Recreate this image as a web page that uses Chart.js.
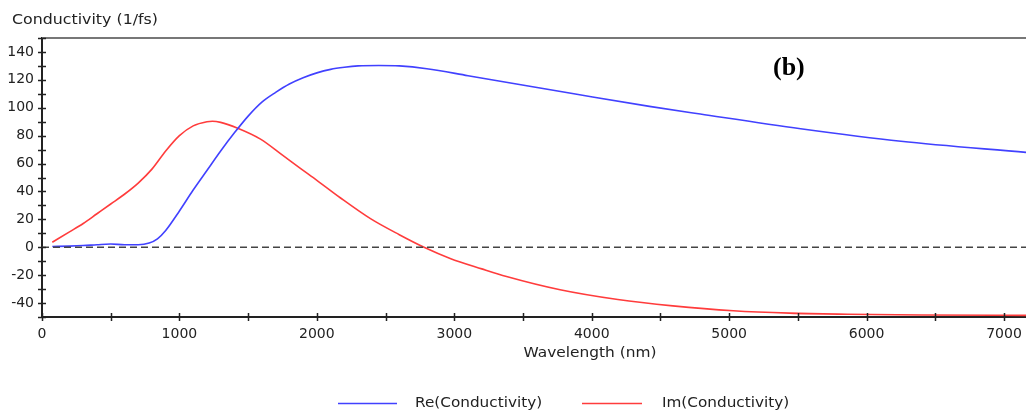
<!DOCTYPE html>
<html><head><meta charset="utf-8">
<script src="https://cdn.jsdelivr.net/npm/chart.js@4.4.0/dist/chart.umd.min.js"></script>
<style>html,body{margin:0;padding:0;background:#fff;}#wrap{width:1026px;height:414px;position:relative;}</style>
</head><body><div id="wrap"><canvas id="c" width="1026" height="414"></canvas></div>
<script>
const reWavelength = [75,200,300,400,500,600,700,780,840,900,1000,1100,1200,1300,1400,1500,1600,1700,1800,1900,2000,2100,2200,2300,2450,2600,2800,3100,3570,3870,4420,4790,5520,6250,7160];
const reValues     = [0.5,0.8,1.2,1.8,2.3,1.8,1.8,3,6,12,26,41,55,69,82,94,104,111,117,121.5,125,127.5,129,130,130.3,130,128,123,115,110,101,95.5,85,76,68];
const imWavelength = [75,200,300,400,500,600,700,800,900,1000,1100,1200,1240,1300,1420,1590,1750,1880,2000,2170,2390,2600,2780,2970,3200,3380,3770,4190,4590,5030,5440,5860,6400,7160];
const imValues     = [3.6,11,17,24,31,38,46,56,69,80,87,90,90.3,89.5,85.5,77.5,66,56.5,48,35.5,20.5,9,0,-8,-15.5,-21,-30.5,-37.5,-42,-45.5,-47.2,-48,-48.6,-48.8];
const baselineWavelength = [0, 7160];
const baselineValues = [0, 0];
const xTickValues = [0,500,1000,1500,2000,2500,3000,3500,4000,4500,5000,5500,6000,6500,7000];
const xTickLabels = [0,1000,2000,3000,4000,5000,6000,7000];
const yTickLabels = [-40,-20,0,20,40,60,80,100,120,140];
const seriesNames = ['Re(Conductivity)','Im(Conductivity)'];
const yAxisTitle = 'Conductivity (1/fs)';
const xAxisTitle = 'Wavelength (nm)';
const panelLabel = '(b)';

const BLUE = 'rgb(65,65,255)';
const RED = 'rgb(255,60,60)';
const FONT = "'DejaVu Sans', Verdana, sans-serif";

function pts(xs, ys){ return xs.map((x,i)=>({x:x,y:ys[i]})); }
function inList(list, v){ return list.some(t => Math.abs(t - v) < 1e-6); }

function stretchText(ctx, text, x, y, sx, align){
  ctx.save();
  const w = ctx.measureText(text).width * sx;
  let left = x;
  if (align === 'center') left = x - w/2;
  ctx.translate(left, y); ctx.scale(sx, 1);
  ctx.textAlign = 'left';
  ctx.fillText(text, 0, 0);
  ctx.restore();
}

const decor = {
  id:'decor',
  afterDraw(chart){
    const ctx = chart.ctx, a = chart.chartArea;
    const xs = chart.scales.x, ys = chart.scales.y;
    ctx.save();
    ctx.strokeStyle = '#777'; ctx.lineWidth = 2;
    ctx.beginPath(); ctx.moveTo(a.left, a.top); ctx.lineTo(a.right, a.top); ctx.stroke();
    ctx.strokeStyle = '#222'; ctx.lineWidth = 1.5;
    xs.ticks.forEach(t=>{ const px = Math.round(xs.getPixelForValue(t.value))+0.5;
      ctx.beginPath(); ctx.moveTo(px, a.bottom-4); ctx.lineTo(px, a.bottom+4); ctx.stroke(); });
    ys.ticks.forEach(t=>{ const py = Math.round(ys.getPixelForValue(t.value))+0.5;
      ctx.beginPath(); ctx.moveTo(a.left-4, py); ctx.lineTo(a.left+4, py); ctx.stroke(); });
    ctx.fillStyle = '#222'; ctx.font = '14px ' + FONT; ctx.textBaseline = 'middle';
    stretchText(ctx, yAxisTitle, 12, 20, 1.13, 'left');
    stretchText(ctx, xAxisTitle, 590, 353, 1.1, 'center');
    ctx.font = "bold 26px 'Liberation Serif', 'Times New Roman', serif";
    ctx.fillStyle = '#000'; ctx.textAlign = 'left'; ctx.fillText(panelLabel, 773, 68);
    const items = [{c:BLUE, x0:338, x1:397, tx:415, name:seriesNames[0]},
                   {c:RED,  x0:582, x1:642, tx:662, name:seriesNames[1]}];
    ctx.font = '14px ' + FONT; ctx.fillStyle = '#222';
    items.forEach(it=>{
      ctx.strokeStyle = it.c; ctx.lineWidth = 1.5;
      ctx.beginPath(); ctx.moveTo(it.x0, 403.5); ctx.lineTo(it.x1, 403.5); ctx.stroke();
      stretchText(ctx, it.name, it.tx, 403, 1.09, 'left');
    });
    ctx.restore();
  }
};

new Chart(document.getElementById('c'), {
  type:'line',
  data:{ datasets:[
    {label:'zero', data:pts(baselineWavelength, baselineValues), borderColor:'#444', borderWidth:1.5, borderDash:[7,4], pointRadius:0, tension:0},
    {label:seriesNames[0], data:pts(reWavelength, reValues), borderColor:BLUE, backgroundColor:BLUE, borderWidth:1.6, pointRadius:0, cubicInterpolationMode:'monotone'},
    {label:seriesNames[1], data:pts(imWavelength, imValues), borderColor:RED, backgroundColor:RED, borderWidth:1.6, pointRadius:0, cubicInterpolationMode:'monotone'}
  ]},
  options:{
    responsive:false, animation:false, devicePixelRatio:1,
    layout:{padding:{top:38,left:0,right:0,bottom:0}},
    plugins:{legend:{display:false}, tooltip:{enabled:false}},
    scales:{
      x:{type:'linear', min:0, max:7160, bounds:'data',
        grid:{display:false, drawTicks:false},
        border:{display:true, color:'#222', width:2},
        afterBuildTicks:s=>{ s.ticks = xTickValues.map(v=>({value:v})); },
        ticks:{autoSkip:false, maxRotation:0, minRotation:0, padding:9, color:'#222', font:{family:FONT, size:14},
          callback:(v)=> inList(xTickLabels, v) ? String(Math.round(v)) : ''},
        afterFit:s=>{ s.height = 97; s.paddingRight = 0; s.paddingLeft = 0; }
      },
      y:{type:'linear', min:-50, max:150, bounds:'data',
        grid:{display:false, drawTicks:false},
        border:{display:true, color:'#222', width:2},
        ticks:{stepSize:10, maxTicksLimit:100, includeBounds:false, autoSkip:false, padding:8, color:'#222', font:{family:FONT, size:14},
          callback:(v)=> inList(yTickLabels, v) ? String(Math.round(v)) : ''},
        afterFit:s=>{ s.width = 42; }
      }
    }
  },
  plugins:[decor]
});
</script></body></html>
